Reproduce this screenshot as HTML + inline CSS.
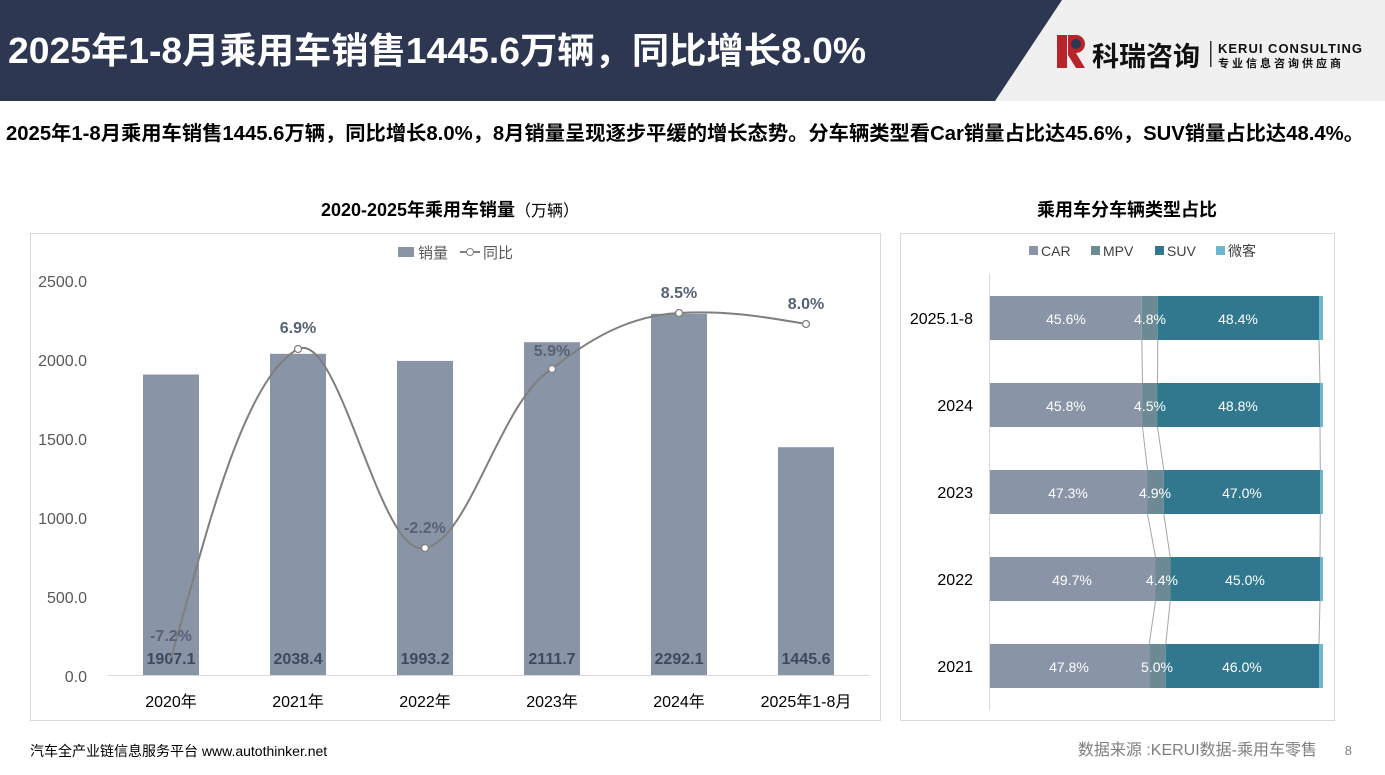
<!DOCTYPE html>
<html><head><meta charset="utf-8"><style>
body{margin:0;width:1385px;height:775px;overflow:hidden;background:#fff;font-family:"Liberation Sans","Noto Sans CJK SC",sans-serif;position:relative}
</style></head><body>
<svg width="1385" height="775" xmlns="http://www.w3.org/2000/svg" style="position:absolute;left:0;top:0;font-family:'Liberation Sans','Noto Sans CJK SC',sans-serif">
<rect x="0" y="0" width="1385" height="101" fill="#f0f0f0"/>
<polygon points="0,0 1062,0 995,101 0,101" fill="#2e3752"/>
<text x="8" y="63" font-size="36" font-weight="bold" fill="#fff" textLength="858" lengthAdjust="spacingAndGlyphs">2025年1-8月乘用车销售1445.6万辆，同比增长8.0%</text>
<rect x="1057" y="35" width="10" height="33" fill="#b8242a"/>
<path d="M1068,35 h8 a9,9 0 0 1 0,18 l9,15 h-9 l-8,-13 z" fill="#b8242a"/>
<circle cx="1076" cy="44" r="5" fill="#2e3752"/>
<text x="1092" y="66" font-size="27" font-weight="bold" fill="#111">科瑞咨询</text>
<rect x="1210" y="41" width="1.5" height="26" fill="#333"/>
<text x="1218" y="53" font-size="13" font-weight="bold" fill="#111" letter-spacing="1">KERUI  CONSULTING</text>
<text x="1218" y="67" font-size="11" font-weight="bold" fill="#111" letter-spacing="3">专业信息咨询供应商</text>
<text x="6" y="140" font-size="20" font-weight="bold" fill="#000" textLength="1358" lengthAdjust="spacingAndGlyphs">2025年1-8月乘用车销售1445.6万辆，同比增长8.0%，8月销量呈现逐步平缓的增长态势。分车辆类型看Car销量占比达45.6%，SUV销量占比达48.4%。</text>

<text x="450" y="216" font-size="18" font-weight="bold" text-anchor="middle" fill="#000">2020-2025年乘用车销量<tspan font-weight="normal" font-size="16">（万辆）</tspan></text>
<rect x="30.5" y="233.5" width="850" height="487" fill="none" stroke="#d9d9d9"/>
<rect x="398" y="247" width="16" height="10" fill="#8995a6"/>
<text x="418" y="258" font-size="15" fill="#595959">销量</text>
<line x1="460" y1="252" x2="480" y2="252" stroke="#7f7f7f" stroke-width="2"/><circle cx="470" cy="252" r="3.5" fill="#fff" stroke="#7f7f7f"/>
<text x="483" y="258" font-size="15" fill="#595959">同比</text>
<g font-size="16" fill="#595959" text-anchor="end">
<text x="87" y="287">2500.0</text><text x="87" y="366">2000.0</text><text x="87" y="445">1500.0</text><text x="87" y="524">1000.0</text><text x="87" y="603">500.0</text><text x="87" y="682">0.0</text>
</g>
<line x1="108" y1="675.5" x2="870" y2="675.5" stroke="#d9d9d9"/>
<g fill="#8995a6">
<rect x="143" y="374.5" width="56" height="300.5"/>
<rect x="270" y="353.8" width="56" height="321.2"/>
<rect x="397" y="360.9" width="56" height="314.1"/>
<rect x="524" y="342.2" width="56" height="332.8"/>
<rect x="651" y="313.8" width="56" height="361.2"/>
<rect x="778" y="447.2" width="56" height="227.8"/>
</g>
<g font-size="16" font-weight="bold" fill="#3d4a5e" text-anchor="middle">
<text x="171" y="664">1907.1</text><text x="298" y="664">2038.4</text><text x="425" y="664">1993.2</text><text x="552" y="664">2111.7</text><text x="679" y="664">2292.1</text><text x="806" y="664">1445.6</text>
</g>
<g font-size="16" fill="#000" text-anchor="middle">
<text x="171" y="707">2020年</text><text x="298" y="707">2021年</text><text x="425" y="707">2022年</text><text x="552" y="707">2023年</text><text x="679" y="707">2024年</text><text x="806" y="707">2025年1-8月</text>
</g>
<path d="M171,658 C200,560 240,380 298,349 C340,330 380,560 425,548 C470,540 500,400 552,369 C600,330 640,315 679,313 C730,310 770,318 806,324" fill="none" stroke="#7f7f7f" stroke-width="2"/>
<g fill="#fff" stroke="#7f7f7f" stroke-width="1.3">
<circle cx="298" cy="349" r="3.5"/><circle cx="425" cy="548" r="3.5"/><circle cx="552" cy="369" r="3.5"/><circle cx="679" cy="313" r="3.5"/><circle cx="806" cy="324" r="3.5"/>
</g>
<g font-size="16" font-weight="bold" fill="#596275" text-anchor="middle">
<text x="171" y="641">-7.2%</text><text x="298" y="333">6.9%</text><text x="425" y="533">-2.2%</text><text x="552" y="356">5.9%</text><text x="679" y="298">8.5%</text><text x="806" y="309">8.0%</text>
</g>

<text x="1127" y="216" font-size="18" font-weight="bold" text-anchor="middle" fill="#000">乘用车分车辆类型占比</text>
<rect x="900.5" y="233.5" width="434" height="487" fill="none" stroke="#d9d9d9"/>
<g font-size="14" fill="#404040">
<rect x="1029" y="246" width="9" height="9" fill="#8995a6"/><text x="1041" y="256">CAR</text>
<rect x="1091" y="246" width="9" height="9" fill="#6b8a93"/><text x="1103" y="256">MPV</text>
<rect x="1155" y="246" width="9" height="9" fill="#31788e"/><text x="1167" y="256">SUV</text>
<rect x="1216" y="246" width="9" height="9" fill="#6db7cf"/><text x="1228" y="256">微客</text>
</g>
<line x1="989.5" y1="274" x2="989.5" y2="710" stroke="#d9d9d9"/>
<g stroke="#a6a6a6" stroke-width="1" fill="none">
<path d="M1141.8,340 L1142.5,383 M1157.8,340 L1157.5,383 M1319,340 L1320,383"/>
<path d="M1142.5,427 L1147.5,470 M1157.5,427 L1163.8,470 M1320,427 L1320.3,470"/>
<path d="M1147.5,514 L1155.5,557 M1163.8,514 L1170.2,557 M1320.3,514 L1320,557"/>
<path d="M1155.5,601 L1149.2,644 M1170.2,601 L1165.8,644 M1320,601 L1319,644"/>
</g>
<g>
<rect x="990" y="296" width="151.8" height="44" fill="#8995a6"/><rect x="1141.8" y="296" width="16" height="44" fill="#6b8a93"/><rect x="1157.8" y="296" width="161.2" height="44" fill="#31788e"/><rect x="1319" y="296" width="4" height="44" fill="#6db7cf"/>
<rect x="990" y="383" width="152.5" height="44" fill="#8995a6"/><rect x="1142.5" y="383" width="15" height="44" fill="#6b8a93"/><rect x="1157.5" y="383" width="162.5" height="44" fill="#31788e"/><rect x="1320" y="383" width="3" height="44" fill="#6db7cf"/>
<rect x="990" y="470" width="157.5" height="44" fill="#8995a6"/><rect x="1147.5" y="470" width="16.3" height="44" fill="#6b8a93"/><rect x="1163.8" y="470" width="156.5" height="44" fill="#31788e"/><rect x="1320.3" y="470" width="2.7" height="44" fill="#6db7cf"/>
<rect x="990" y="557" width="165.5" height="44" fill="#8995a6"/><rect x="1155.5" y="557" width="14.7" height="44" fill="#6b8a93"/><rect x="1170.2" y="557" width="149.8" height="44" fill="#31788e"/><rect x="1320" y="557" width="3" height="44" fill="#6db7cf"/>
<rect x="990" y="644" width="159.2" height="44" fill="#8995a6"/><rect x="1149.2" y="644" width="16.6" height="44" fill="#6b8a93"/><rect x="1165.8" y="644" width="153.2" height="44" fill="#31788e"/><rect x="1319" y="644" width="4" height="44" fill="#6db7cf"/>
</g>
<g font-size="14" fill="#fff" text-anchor="middle">
<text x="1066" y="324">45.6%</text><text x="1150" y="324">4.8%</text><text x="1238" y="324">48.4%</text>
<text x="1066" y="411">45.8%</text><text x="1150" y="411">4.5%</text><text x="1238" y="411">48.8%</text>
<text x="1068" y="498">47.3%</text><text x="1155" y="498">4.9%</text><text x="1242" y="498">47.0%</text>
<text x="1072" y="585">49.7%</text><text x="1162" y="585">4.4%</text><text x="1245" y="585">45.0%</text>
<text x="1069" y="672">47.8%</text><text x="1157" y="672">5.0%</text><text x="1242" y="672">46.0%</text>
</g>
<g font-size="16" fill="#000" text-anchor="end">
<text x="973" y="324">2025.1-8</text><text x="973" y="411">2024</text><text x="973" y="498">2023</text><text x="973" y="585">2022</text><text x="973" y="672">2021</text>
</g>
<text x="30" y="756" font-size="14" fill="#000">汽车全产业链信息服务平台 www.autothinker.net</text>
<text x="1317" y="755" font-size="16" fill="#7f7f7f" text-anchor="end">数据来源 :KERUI数据-乘用车零售</text>
<text x="1352" y="755" font-size="13" fill="#7f7f7f" text-anchor="end">8</text>
</svg>
</body></html>
